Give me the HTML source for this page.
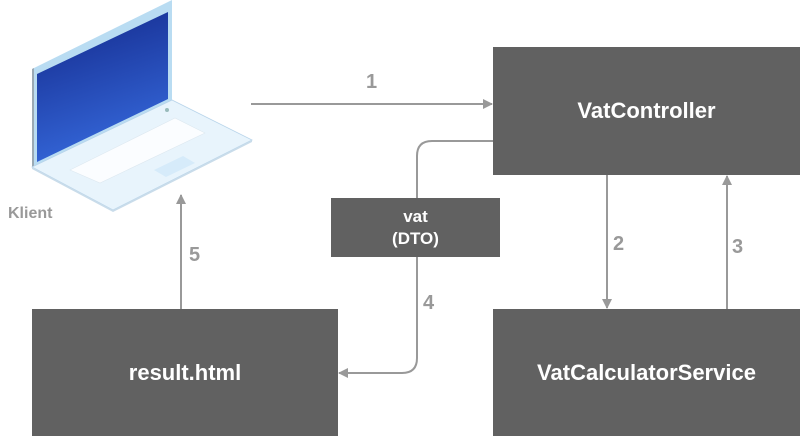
<!DOCTYPE html>
<html><head><style>
html,body{margin:0;padding:0;background:#fff;}
body{width:800px;height:436px;position:relative;overflow:hidden;font-family:"Liberation Sans",Arial,sans-serif;}
.box{position:absolute;background:#616161;color:#fff;font-weight:bold;display:flex;align-items:center;justify-content:center;text-align:center;}
</style></head><body>
<svg width="800" height="436" style="position:absolute;left:0;top:0">
<defs>
<linearGradient id="scr" x1="0" y1="0" x2="0.3" y2="1">
<stop offset="0" stop-color="#13288a"/><stop offset="1" stop-color="#3466d8"/>
</linearGradient>
<marker id="ah" markerWidth="10" markerHeight="10" refX="9" refY="5" orient="auto" markerUnits="userSpaceOnUse"><path d="M0,0 L10,5 L0,10 z" fill="#999"/></marker>
</defs>
<polygon points="32,69 172,0 172,100 32,167" fill="#b9dcf2"/>
<polygon points="32,69 34,68 34,166 32,167" fill="#9aa9b4"/>
<polygon points="37,74 168,12 168,99 37,162" fill="url(#scr)"/>
<polygon points="32,167 172,100 252,140 113,210" fill="#e8f4fc" stroke="#b8d4ea" stroke-width="0.8"/>
<polygon points="113,210 252,140 252,142 113,212 32,169 32,167" fill="#c9dcea"/>
<polygon points="70,170 175,118 205,133 100,183" fill="#fbfdff" stroke="#dde8f0" stroke-width="0.6"/>
<polygon points="154,170 183,156 195,163 166,177" fill="#d6ebfa"/>
<circle cx="167" cy="110" r="2" fill="#9bb"/>
<text x="8" y="218" font-size="16" font-weight="bold" fill="#999">Klient</text>
<g stroke="#999" stroke-width="2" fill="none">
<line x1="251" y1="104" x2="492" y2="104" marker-end="url(#ah)"/>
<line x1="607" y1="175" x2="607" y2="308" marker-end="url(#ah)"/>
<line x1="727" y1="309" x2="727" y2="176" marker-end="url(#ah)"/>
<line x1="181" y1="309" x2="181" y2="195" marker-end="url(#ah)"/>
<path d="M493,141 H432 Q417,141 417,156 V358 Q417,373 402,373 H339" marker-end="url(#ah)"/>
</g>
<g font-size="20" font-weight="bold" fill="#999">
<text x="366" y="88">1</text>
<text x="613" y="250">2</text>
<text x="732" y="253">3</text>
<text x="423" y="309">4</text>
<text x="189" y="261">5</text>
</g>
</svg>
<div class="box" style="left:493px;top:47px;width:307px;height:128px;font-size:22px">VatController</div>
<div class="box" style="left:32px;top:309px;width:306px;height:127px;font-size:22px">result.html</div>
<div class="box" style="left:493px;top:309px;width:307px;height:127px;font-size:22px">VatCalculatorService</div>
<div class="box" style="left:331px;top:198px;width:169px;height:59px;font-size:17px;line-height:22px">vat<br>(DTO)</div>
</body></html>
